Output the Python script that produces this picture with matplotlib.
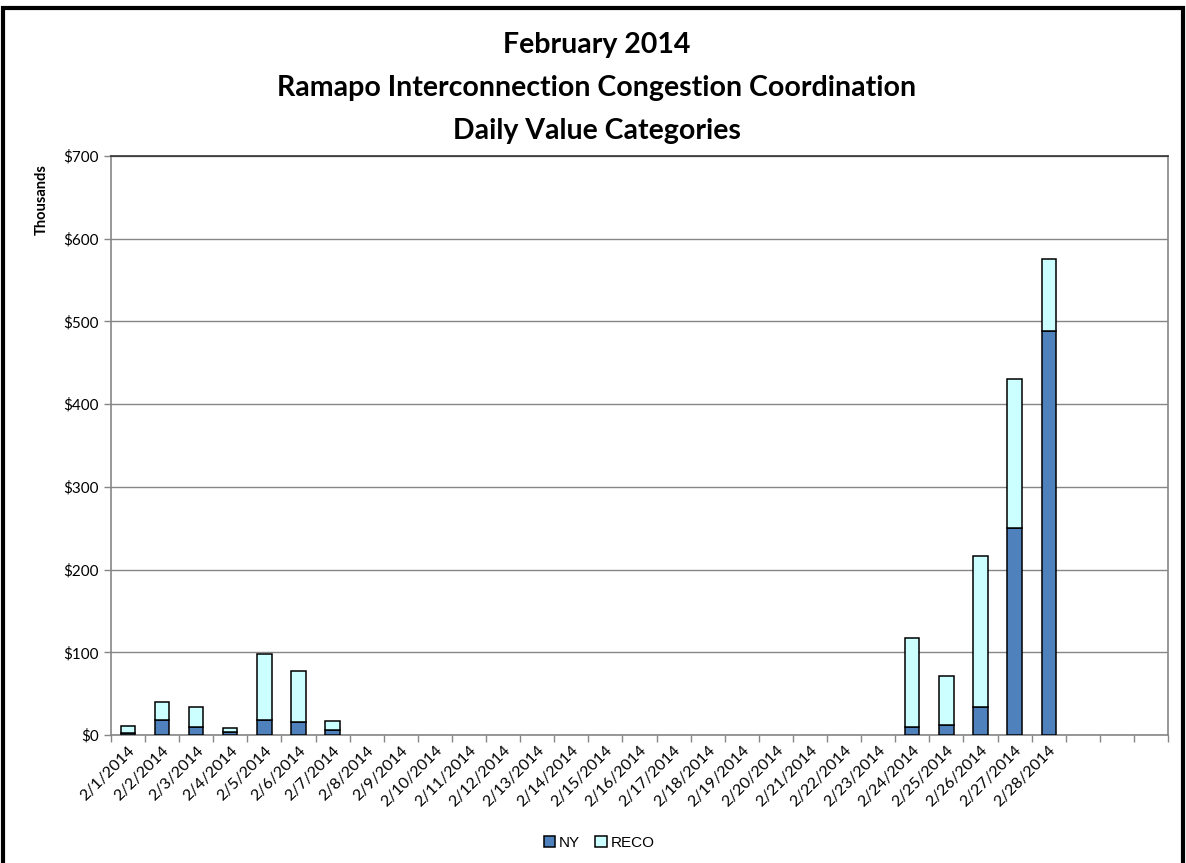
import matplotlib
matplotlib.use("Agg")
import matplotlib.pyplot as plt
from matplotlib.patches import Rectangle
from matplotlib.ticker import FuncFormatter, MultipleLocator
import numpy as np

categories = [f"2/{d}/2014" for d in range(1, 29)] + ["", "", ""]
ny = [2.4, 17.8, 10, 3.6, 17.8, 16.2, 6.5] + [0] * 16 + [10, 12, 34, 250, 488] + [0, 0, 0]
reco_total = [10.5, 39.7, 34, 8.5, 98, 77.7, 16.6] + [0] * 16 + [117, 71.5, 217, 430.5, 575.7] + [0, 0, 0]
reco = [t - n for t, n in zip(reco_total, ny)]

W, H = 1186, 863
fig = plt.figure(figsize=(W / 100, H / 100), dpi=100)
ax = fig.add_axes([111 / W, 1 - 735 / H, (1168 - 111) / W, (735 - 156) / H])

x = np.arange(len(categories))
ny_a = np.array(ny, dtype=float)
reco_a = np.array(reco, dtype=float)
nz = reco_a + ny_a > 0
bw = 0.42
ax.bar(x[nz], ny_a[nz], bw, color="#4F81BD", edgecolor="black", linewidth=1.1, label="NY", zorder=3)
ax.bar(x[nz], reco_a[nz], bw, bottom=ny_a[nz], color="#CCFFFF", edgecolor="black", linewidth=1.1,
       label="RECO", zorder=3)

ax.set_xlim(-0.5, len(categories) - 0.5)
ax.set_ylim(0, 700)
ax.yaxis.set_major_locator(MultipleLocator(100))
ax.yaxis.set_major_formatter(FuncFormatter(lambda v, p: f"${int(v)}"))
ax.grid(axis="y", color="#868686", linewidth=1.0, zorder=0)
ax.set_axisbelow(True)

ax.set_xticks(np.arange(len(categories) + 1) - 0.5, minor=False)
ax.set_xticklabels([])
ax.set_xticks(x, minor=True)
ax.set_xticklabels(categories, minor=True, rotation=45, ha="right", rotation_mode="anchor",
                   fontsize=11.5, family="Lato")
ax.tick_params(axis="x", which="major", length=5, color="#868686", width=1, direction="out")
ax.tick_params(axis="x", which="minor", length=0, pad=6)
ax.tick_params(axis="y", length=5, color="#868686", width=1, direction="out", labelsize=11, pad=4)
for lbl in ax.get_yticklabels():
    lbl.set_family("Lato")

for s in ["left", "bottom", "right"]:
    ax.spines[s].set_color("#868686")
    ax.spines[s].set_linewidth(1.2)
ax.spines["top"].set_color("#333333")
ax.spines["top"].set_linewidth(1.2)

fig.text(42 / W, 1 - 200 / H, "Thousands", rotation=90, ha="center", va="center",
         fontsize=10.5, fontweight="bold", family="Lato")

titles = ["February 2014", "Ramapo Interconnection Congestion Coordination", "Daily Value Categories"]
for i, t in enumerate(titles):
    fig.text(597 / W, 1 - (45 + 43 * i) / H, t, ha="center", va="center",
             fontsize=20.5, fontweight="bold", family="Lato")

leg = fig.legend(loc="center", bbox_to_anchor=(599 / W, 1 - 843 / H), ncol=2, frameon=False,
                 handlelength=0.75, handleheight=0.75, handletextpad=0.25, columnspacing=1.0,
                 prop={"family": "Liberation Sans", "size": 11})

fig.patches.append(Rectangle((3 / W, -0.02), (1183 - 3) / W, 1 - 8 / H + 0.02,
                             transform=fig.transFigure, fill=False, edgecolor="black", linewidth=3))

fig.savefig("out.png", dpi=100)
